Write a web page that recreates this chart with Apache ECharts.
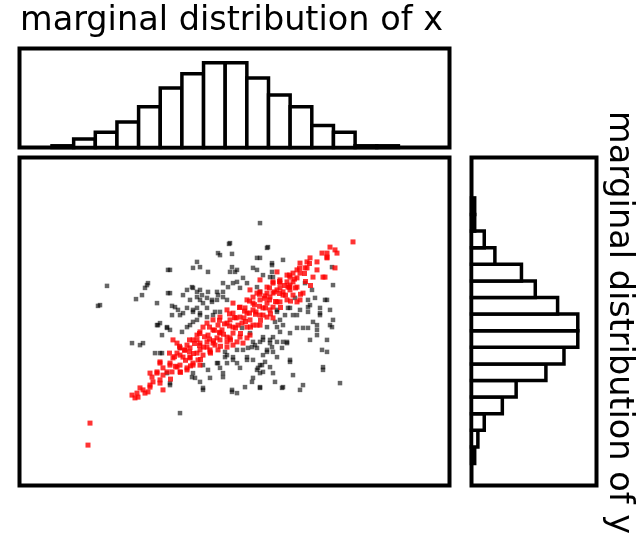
<!DOCTYPE html>
<html><head><meta charset="utf-8">
<script src="https://cdn.jsdelivr.net/npm/echarts@6/dist/echarts.min.js"></script>
<style>html,body{margin:0;padding:0;background:#fff}#c{width:643px;height:539px}</style>
</head><body><div id="c"></div>
<script>
// ---- data ----
const titleX = 'marginal distribution of x';
const titleY = 'marginal distribution of y';
const xBinStart = -3.65, xBinWidth = 0.433;
const xCounts = [2,10,18,30,48,70,87,100,100,82,62,48,26,18,2,2];
const yBinStart = -3.55, yBinWidth = 0.415;
const yCounts = [3,6,12,29,42,70,87,100,100,81,60,47,22,12,3,3];

const blackPts = [
[0.51,2.46],[-0.09,1.96],[0.67,1.86],[-0.33,1.71],[-0.05,1.69],[0.51,1.59],[-0.75,1.49],[-0.83,1.34],[-0.69,1.36],[-0.53,1.24],
[-1.29,1.29],[-0.05,1.36],[-0.09,1.24],[0.01,1.24],[0.45,1.29],[0.75,1.46],[0.75,1.24],[0.77,1.11],[0.97,1.54],[1.95,1.36],
[1.97,0.91],[-2.55,0.89],[-2.73,0.39],[-1.97,0.56],[-1.79,0.84],[-1.73,0.96],[-1.33,0.71],[-1.55,0.46],[-2.05,-0.54],[-1.89,-0.59],
[-1.49,-0.79],[-1.59,-0.79],[-1.09,-2.29],[-0.63,-1.71],[-0.05,-1.71],[0.05,-1.79],[0.21,-1.64],[0.51,-1.66],[0.95,-1.66],[1.31,-1.71],
[1.37,-1.59],[2.11,-1.54],[1.77,-1.14],[1.17,-1.34],[0.81,-1.51],[0.35,-1.51],[-0.23,-1.39],[-0.69,-1.51],[-0.85,-1.39],[1.75,-0.71],
[1.85,-0.46],[1.97,0.04],[1.95,-0.14],[1.71,0.21],[1.65,-0.09],[1.47,-0.16],[1.91,0.29],[1.85,0.54],[1.55,0.79],[1.61,0.59],
[1.47,0.36],[1.25,-0.16],[1.11,-0.29],[1.05,-0.54],[1.11,-1.01],[0.85,-0.89],[0.75,-0.64],[0.65,-0.76],[0.55,-1.09],[0.47,-1.16],
[0.51,-1.29],[0.37,-0.96],[0.25,-0.89],[0.05,-1.04],[-0.03,-0.89],[-0.19,-0.89],[-0.19,-0.76],[-0.23,-1.29],[-0.35,-1.04],[-0.53,-1.21],
[-0.63,-1.09],[-0.83,-1.29],[-1.29,-1.54],[-1.35,-1.29],[0.41,-0.59],[0.35,-0.64],[0.57,-0.39],[0.77,-0.39],[0.71,-0.46],[0.91,-0.26],
[0.85,-0.14],[0.91,0.04],[0.85,0.29],[1.07,0.34],[1.17,0.16],[1.31,0.29],[1.47,0.54],[1.21,0.59],[0.51,0.74],[0.25,0.96],
[0.11,0.84],[-0.03,0.96],[-0.23,0.96],[-0.35,0.74],[-0.53,0.74],[-0.69,0.79],[-0.83,0.84],[-0.95,0.79],[-1.03,0.66],[-0.89,0.54],
[-0.75,0.61],[-0.69,0.54],[-0.63,0.46],[-0.45,0.54],[-0.35,0.54],[-0.23,0.61],[-0.15,0.54],[-1.19,0.36],[-1.13,0.29],[-1.25,0.16],
[-1.03,0.21],[-0.83,0.29],[-0.75,0.34],[-0.55,0.34],[-0.39,0.24],[-1.49,-0.04],[-1.55,-0.09],[-1.35,-0.14],[-1.29,-0.21],[-1.45,-0.34],
[-1.05,-0.26],[-0.95,-0.14],[-0.83,-0.01],[-0.75,0.04],[-0.69,0.21],[-0.55,0.11],[0.15,-0.16],[0.31,-0.29],[0.51,-0.51],[0.57,-0.84],
[0.77,-0.76],[1.51,-0.46],[1.85,-0.76],[1.77,-1.21],
[-0.29,1.66],[-0.11,1.94],[-1.33,1.29],[0.05,1.29],[-1.75,0.91],[-1.85,0.66],[-1.29,0.71],[-1.25,0.39],[-2.69,0.41],[-0.85,0.86],
[-0.75,0.74],[-0.65,0.66],[-0.55,0.59],[-0.45,0.49],[-0.33,0.66],[-0.23,0.74],[-0.13,0.86],[0.05,0.99],[0.17,1.09],[-0.95,0.34],
[-0.83,0.24],[-0.69,0.16],[-1.09,0.16],[-1.53,-0.09],[-1.35,-0.16],[-0.89,-0.09],[-0.43,0.16],[-0.29,0.24],
[0.37,-0.51],[0.57,-0.46],[0.71,-0.54],[0.85,-0.51],[0.97,-0.51],[0.45,-0.66],[0.65,-0.71],[0.95,-0.66],[0.51,-1.09],[0.61,-1.01],
[0.71,-1.14],[0.45,-1.21],[0.57,-1.26],[0.77,-1.29],[0.37,-1.41],[0.51,-1.64],[0.97,-1.64],[1.11,-0.96],[1.65,-0.34],[1.05,-0.51],
[0.65,1.84],[0.45,1.59],[0.75,1.41],[0.37,1.34],[0.57,1.16],[0.71,1.11],[1.41,0.96],[0.45,0.86],[1.81,0.54],[1.51,0.41],
[1.71,0.34],[1.11,0.34],[0.85,0.24],[1.01,0.16],[1.25,0.16],[1.47,0.24],[1.57,-0.01],[1.71,0.16],[1.91,-0.09],[0.81,-0.01],
[0.97,-0.09],[0.65,-0.14],[1.37,-0.16],[1.65,-0.21],
[-1.83,-0.54],[-1.45,-0.79],[-1.09,-0.66],[-1.29,-1.59],[-0.79,-1.41],[-0.49,-1.41],[-0.63,-1.66],[-0.05,-1.76],[-0.15,-0.84],[-0.03,-0.96],
[0.25,-0.96],[-0.29,-1.16],[0.11,-1.16],[-0.15,-1.04],[-0.33,-1.04],[0.17,-0.71],[0.27,-0.66],[0.05,-0.71]
];

const redPts = [
[2.37,1.99],[1.91,1.86],[2.05,1.71],[1.85,1.71],[1.75,1.71],[1.31,1.46],[1.45,1.49],[1.65,1.49],[2.01,1.34],[1.77,1.11],
[1.57,1.11],[1.25,1.29],[1.17,1.21],[1.11,1.11],[0.85,1.24],[0.51,1.04],[0.77,0.96],[0.91,0.96],[1.05,0.99],[1.25,0.86],
[1.11,0.79],[1.31,0.54],[0.31,0.79],[0.45,0.71],[0.65,0.71],[0.77,0.71],[0.25,0.54],[0.37,0.46],[0.51,0.54],[0.65,0.46],
[0.77,0.36],[-0.03,0.46],[0.11,0.36],[-0.15,0.29],[-0.03,0.21],[0.11,0.11],[0.25,0.21],[0.37,0.29],[0.51,0.16],[0.65,0.11],
[0.77,0.09],[-0.29,0.11],[-0.43,0.04],[-0.55,-0.04],[-0.15,-0.04],[-0.03,-0.14],[0.15,-0.04],[0.25,-0.14],[0.37,-0.09],[0.51,-0.09],
[-0.63,-0.14],[-0.69,-0.26],[-0.75,-0.34],[-0.43,-0.21],[-0.29,-0.29],[-0.15,-0.39],[-0.03,-0.29],[0.11,-0.39],[0.17,-0.54],[0.31,-0.34],
[-0.83,-0.46],[-0.95,-0.59],[-1.09,-0.66],[-0.69,-0.54],[-0.55,-0.64],[-0.43,-0.54],[-0.29,-0.46],[-0.15,-0.64],[-0.03,-0.59],[-1.15,-0.79],
[-1.23,-0.91],[-1.29,-1.04],[-1.03,-0.89],[-0.89,-0.89],[-0.75,-0.79],[-0.63,-0.84],[-0.49,-0.71],[-1.15,-1.14],[-1.09,-1.26],[-0.95,-1.21],
[-0.83,-1.04],[-0.69,-1.09],[-1.49,-1.04],[-1.43,-1.16],[-1.55,-1.29],[-1.69,-1.29],[-1.63,-1.51],[-1.69,-1.64],[-1.49,-1.54],[-1.43,-1.71],
[-1.89,-1.66],[-1.95,-1.79],[-2.05,-1.84],[-1.99,-1.91],[-1.79,-1.79],[-1.73,-1.76],[-1.35,-1.26],[-2.89,-2.54],[-2.93,-3.09],[-1.15,-0.54],
[-1.23,-0.46],[0.91,0.84],[0.97,0.74],[1.17,0.99],[1.45,1.34],[1.85,1.59],[1.31,1.21],
[-0.75,-0.46],[-0.55,-0.51],[-0.35,-0.41],[-0.15,-0.51],[0.05,-0.51],[0.25,-0.41],[-0.89,-0.66],[-0.69,-0.71],[-0.49,-0.76],[-1.09,-0.84],
[-0.89,-0.91],[-0.73,-0.96],[-1.09,-1.09],[-1.29,-1.09],[-1.49,-1.01],[-1.55,-1.26],[-1.65,-1.39],[-1.49,-1.46],[-1.69,-1.59],[-1.83,-1.71],
[-1.93,-1.89],[-1.43,-1.34],[-1.25,-1.26],[-0.95,-1.16],[-0.83,-1.09],
[2.01,1.79],[1.85,1.61],[1.51,1.59],[1.41,1.34],[1.65,1.29],[1.81,1.11],[1.05,1.16],[1.25,1.09],[0.91,1.04],[1.11,0.91],
[0.77,0.99],[0.65,0.86],[0.85,0.79],[0.97,0.66],[1.17,0.66],[1.37,0.71],[0.51,0.74],[0.71,0.61],[0.37,0.61],[0.85,0.49],
[1.25,0.49],[0.57,0.16],[0.45,-0.09],
[-0.39,-0.59],[-0.25,-0.21],[-0.09,0.04],[0.03,0.09],[0.19,0.09],[0.31,0.04],[0.43,0.24],[0.57,0.34],[0.71,0.29],[0.91,0.49],
[1.05,0.54],[0.21,0.34],[0.07,-0.09],[-0.33,-0.09],[-0.53,-0.34],[-0.99,-0.71],[0.61,0.64],[1.07,0.86],[-0.09,-0.41],[-0.33,-0.71],
[-1.2,-0.88],[-1.18,-1.12],[-1.0,-0.72],[-0.98,-0.97],[-0.8,-0.55],[-0.82,-0.8],[-0.6,-0.38],[-0.62,-0.64],[-0.4,-0.22],[-0.42,-0.48],
[-0.2,-0.06],[-0.22,-0.32],[0.0,0.1],[0.02,-0.16],[0.2,0.26],[0.22,0.0],[0.4,0.42],[0.42,0.18],[0.6,0.58],[0.62,0.34],
[0.8,0.74],[0.82,0.5],[1.0,0.9],[1.02,0.66],[1.2,1.06],[1.22,0.84],[1.4,1.2],[1.42,1.0],[-0.1,-0.11],[0.3,0.21],
[0.5,0.38],[0.7,0.54],[0.9,0.7],[-0.5,-0.44],[-0.3,-0.27],[-0.7,-0.6],[-0.9,-0.76],[1.1,0.86],
[-1.3,-0.79],[-1.28,-1.44],[-1.1,-0.62],[-1.08,-1.27],[-0.9,-0.46],[-0.88,-1.11],[-0.7,-0.3],[-0.68,-0.95],[-0.5,-0.14],[-0.48,-0.79],
[-0.3,0.03],[-0.28,-0.62],[-0.1,0.19],[-0.08,-0.46],[0.1,0.35],[0.12,-0.3],[0.3,0.51],[0.32,-0.14],[0.5,0.68],[0.52,0.03],
[0.7,0.84],[0.72,0.19],[0.9,1.0],[0.92,0.35],[1.1,1.16],[1.12,0.51],[1.3,1.33],[1.32,0.68],[1.5,1.45],[1.52,0.9]
];

// ---- chart ----
const chart = echarts.init(document.getElementById('c'), null, {renderer: 'canvas'});
const FONT = '33.5px "DejaVu Sans"';
const frame = {show: true, borderColor: '#000', borderWidth: 4, backgroundColor: 'transparent'};
const hidden = {show: false};

const xHistData = xCounts.map((c, i) => [xBinStart + i * xBinWidth, xBinStart + (i + 1) * xBinWidth, c]);
const yHistData = yCounts.map((c, i) => [yBinStart + i * yBinWidth, yBinStart + (i + 1) * yBinWidth, c]);

const barStyle = {fill: '#fff', stroke: '#000', lineWidth: 3.5};

chart.setOption({
  animation: false,
  backgroundColor: '#fff',
  grid: [
    Object.assign({left: 19.5, top: 48.5, width: 430, height: 99}, frame),
    Object.assign({left: 19.5, top: 157.5, width: 430, height: 328}, frame),
    Object.assign({left: 471.5, top: 157.5, width: 125, height: 328}, frame)
  ],
  xAxis: [
    Object.assign({type: 'value', gridIndex: 0, min: -4.3, max: 4.3}, hidden),
    Object.assign({type: 'value', gridIndex: 1, min: -4.3, max: 4.3}, hidden),
    Object.assign({type: 'value', gridIndex: 2, min: 0, max: 117.6}, hidden)
  ],
  yAxis: [
    Object.assign({type: 'value', gridIndex: 0, min: 0, max: 116.7}, hidden),
    Object.assign({type: 'value', gridIndex: 1, min: -4.1, max: 4.1}, hidden),
    Object.assign({type: 'value', gridIndex: 2, min: -4.1, max: 4.1}, hidden)
  ],
  graphic: [
    {type: 'text', x: 20, y: 21, silent: true,
     style: {text: titleX, font: FONT, fill: '#000', align: 'left', verticalAlign: 'middle'}},
    {type: 'text', x: 619, y: 111, rotation: -Math.PI / 2, silent: true,
     style: {text: titleY, font: FONT, fill: '#000', align: 'left', verticalAlign: 'middle'}}
  ],
  series: [
    {
      type: 'custom', xAxisIndex: 0, yAxisIndex: 0, silent: true,
      data: xHistData, encode: {x: [0, 1], y: 2},
      renderItem: function (params, api) {
        const p0 = api.coord([api.value(0), api.value(2)]);
        const p1 = api.coord([api.value(1), 0]);
        return {type: 'rect', shape: {x: p0[0], y: p0[1], width: p1[0] - p0[0], height: p1[1] - p0[1]}, style: barStyle};
      }
    },
    {
      type: 'custom', xAxisIndex: 2, yAxisIndex: 2, silent: true,
      data: yHistData, encode: {x: 2, y: [0, 1]},
      renderItem: function (params, api) {
        const p0 = api.coord([api.value(2), api.value(1)]);
        const p1 = api.coord([0, api.value(0)]);
        return {type: 'rect', shape: {x: p1[0], y: p0[1], width: p0[0] - p1[0], height: p1[1] - p0[1]}, style: barStyle};
      }
    },
    {
      type: 'scatter', xAxisIndex: 1, yAxisIndex: 1, silent: true,
      data: blackPts, symbol: 'rect', symbolSize: 4.5,
      itemStyle: {color: '#000', opacity: 0.6}
    },
    {
      type: 'scatter', xAxisIndex: 1, yAxisIndex: 1, silent: true,
      data: redPts, symbol: 'rect', symbolSize: 5,
      itemStyle: {color: '#ff0000', opacity: 0.8}
    }
  ]
});
</script>
</body></html>
